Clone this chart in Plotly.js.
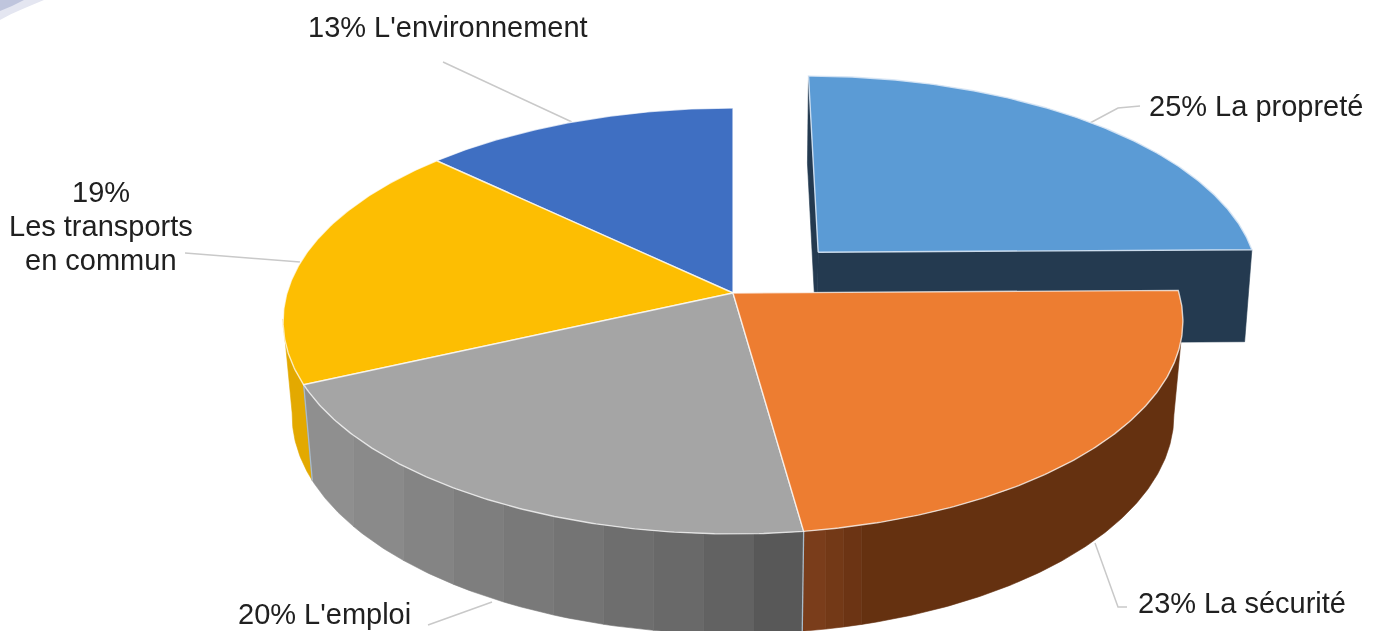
<!DOCTYPE html>
<html>
<head>
<meta charset="utf-8">
<script src="https://cdn.plot.ly/plotly-3.0.1.min.js"></script>
<style>
html,body{margin:0;padding:0;background:#fff;overflow:hidden}
#chart{width:1376px;height:631px;filter:blur(0.6px)}
</style>
</head>
<body>
<div id="chart"></div>
<script>
// ---------- data ----------
const categories = ["La propreté", "La sécurité", "L'emploi", "Les transports|en commun", "L'environnement"];
const values = [24.8, 23.0, 20.4, 18.9, 12.9];
const topColors = ["#5b9bd5", "#ed7d31", "#a5a5a5", "#fdbe02", "#3f6fc2"];

// ---------- perspective of the pie (styles / geometry, no data) ----------
const CX = 733, CY = 293, RX = 446, RY = 209.3, B = 0.1315;
const EXPLODE = [0.196, 0.2];
const S_MAIN = 0.98, S_EXPL = 0.986;
const rad = d => d * Math.PI / 180;
function proj(x, t) { const d = 1 + B * t; return [CX + RX * x / d, CY - RY * t / d]; }
function rim(deg, e) { return proj(Math.sin(rad(deg)) + e[0], Math.cos(rad(deg)) + e[1]); }
function drop(p, s) { return [CX + s * (p[0] - CX), 1.028 * p[1] + 85]; }
const NOE = [0, 0];

// cumulative angles derived from the values
const total = values.reduce((a, b) => a + b, 0);
const angles = [0];
values.forEach((v, i) => angles.push(angles[i] + v / total * 360));

function arc(a0, a1, e) {
  const n = Math.max(2, Math.ceil(Math.abs(a1 - a0) * 2));
  const pts = [];
  for (let i = 0; i <= n; i++) pts.push(rim(a0 + (a1 - a0) * i / n, e));
  return pts;
}
function poly(pts, fill, line, width) {
  const closed = pts.concat([pts[0]]);
  return {
    type: "scatter", mode: "lines", fill: "toself", fillcolor: fill,
    x: closed.map(p => p[0]), y: closed.map(p => p[1]),
    line: { color: line || fill, width: width === undefined ? 0.6 : width },
    hoverinfo: "skip", showlegend: false
  };
}
// wall between top-rim angles a0..a1 and bottom-rim angles b0..b1
function wall(a0, a1, b0, b1, color) {
  const top = arc(a0, a1, NOE);
  const bot = arc(b0, b1, NOE).map(p => drop(p, S_MAIN)).reverse();
  return poly(top.concat(bot), color);
}
function angleAtX(x, lo, hi) { // lo: angle of larger x
  for (let i = 0; i < 40; i++) {
    const m = (lo + hi) / 2;
    if (rim(m, NOE)[0] > x) lo = m; else hi = m;
  }
  return (lo + hi) / 2;
}
// angle on the bottom rim that lies at the same screen x
function bottomAngle(x, lo, hi) { return angleAtX(CX + (x - CX) / S_MAIN, lo, hi); }
function wedge(i, e, line) {
  const apex = proj(e[0], e[1]);
  return poly([apex].concat(arc(angles[i], angles[i + 1], e)), topColors[i], line, 1.4);
}

const traces = [];
const NAVY = "#243a50";
// exploded slice walls
{
  const a = proj(EXPLODE[0], EXPLODE[1]);
  const r0 = rim(angles[0], EXPLODE), r1 = rim(angles[1], EXPLODE);
  traces.push(poly([r0, a, drop(a, S_EXPL), drop(r0, S_EXPL)], NAVY));
  traces.push(poly([a, r1, drop(r1, S_EXPL), drop(a, S_EXPL)], NAVY));
}
// yellow wall
traces.push(wall(angles[3], 263, angles[3], 263, "#e3a900"));
// grey wall bands, dark to the right, with vertical seams
const greyBands = ["#8f8f8f", "#8a8a8a", "#848484", "#7e7e7e", "#797979", "#747474", "#6e6e6e", "#696969", "#626262", "#585858"];
{
  const xL = rim(angles[3], NOE)[0], xR = rim(angles[2], NOE)[0];
  let pa = angles[3], pb = angles[3];
  greyBands.forEach((c, i) => {
    const xNext = xL + (xR - xL) * (i + 1) / greyBands.length;
    const last = i === greyBands.length - 1;
    const na = last ? angles[2] : angleAtX(xNext, angles[2], angles[3]);
    const nb = last ? angles[2] : bottomAngle(xNext, angles[2], angles[3]);
    traces.push(wall(pa, na, pb, nb, c));
    pa = na; pb = nb;
  });
}
// orange wall bands
const brownBands = [["#7a3d1b", 22], ["#733917", 18], ["#6c3414", 18], ["#653110", null]];
{
  let pa = angles[2], pb = angles[2], x = rim(angles[2], NOE)[0];
  brownBands.forEach(([c, w]) => {
    let na = 97.5, nb = 97.5;
    if (w !== null) { x += w; na = angleAtX(x, 97.5, angles[2]); nb = bottomAngle(x, 97.5, angles[2]); }
    traces.push(wall(pa, na, pb, nb, c));
    pa = na; pb = nb;
  });
}
// wall seams
[angles[2], angles[3]].forEach(a => {
  const p = rim(a, NOE), q = drop(p, S_MAIN);
  traces.push({ type: "scatter", mode: "lines", x: [p[0], q[0]], y: [p[1], q[1]],
    line: { color: "#a9bccb", width: 1.3 }, hoverinfo: "skip", showlegend: false });
});
// top faces
const EDGE = "rgba(255,255,255,0.72)";
traces.push(wedge(0, EXPLODE, "rgba(215,230,245,0.9)"));
traces.push(wedge(4, NOE, EDGE));
traces.push(wedge(3, NOE, EDGE));
traces.push(wedge(2, NOE, EDGE));
traces.push(wedge(1, NOE, EDGE));

// ---------- labels ----------
const labelFont = { family: "Liberation Sans, Arial, sans-serif", size: 29, color: "#202020" };
const labelAt = [[1256, 106], [1241.5, 603], [324, 614], [101, 192], [448, 27]];
const LINE_GAP = 34;
const annotations = [];
values.forEach((v, i) => {
  const pct = Math.round(v) + "%";
  const parts = categories[i].split("|");
  const lines = parts.length > 1 ? [pct].concat(parts) : [pct + " " + parts[0]];
  lines.forEach((text, k) => annotations.push({
    x: labelAt[i][0], y: labelAt[i][1] + k * LINE_GAP, xref: "x", yref: "y",
    text: text, showarrow: false, xanchor: "center", yanchor: "middle", align: "center",
    font: labelFont
  }));
});

function path(pts) { return "M" + pts.map(p => p.join(",")).join("L"); }
const leaders = [
  [[1140, 106], [1118, 108], [1090, 123]],
  [[1127, 607], [1118, 607], [1095, 543]],
  [[428, 625], [492, 602]],
  [[185, 253], [300, 262]],
  [[443, 62], [572, 122]]
];
const shapes = leaders.map(l => ({ type: "path", path: path(l), xref: "x", yref: "y", layer: "below",
  line: { color: "#c9c9c9", width: 1.5 } }));
// faint corner swoosh of the slide behind the chart
shapes.push({ type: "path", path: "M0,0L44,0C30,6 14,12 0,20Z", xref: "x", yref: "y", layer: "below",
  fillcolor: "#e4e6f1", line: { width: 0 } });
shapes.push({ type: "path", path: "M0,0L24,0C16,4 8,8 0,11Z", xref: "x", yref: "y", layer: "below",
  fillcolor: "#bfc5dd", line: { width: 0 } });

const layout = {
  width: 1376, height: 631, margin: { l: 0, r: 0, t: 0, b: 0 },
  paper_bgcolor: "#ffffff", plot_bgcolor: "#ffffff", showlegend: false,
  xaxis: { range: [0, 1376], visible: false, fixedrange: true },
  yaxis: { range: [631, 0], visible: false, fixedrange: true },
  annotations: annotations, shapes: shapes
};
Plotly.newPlot("chart", traces, layout, { displayModeBar: false, staticPlot: true });
</script>
</body>
</html>
